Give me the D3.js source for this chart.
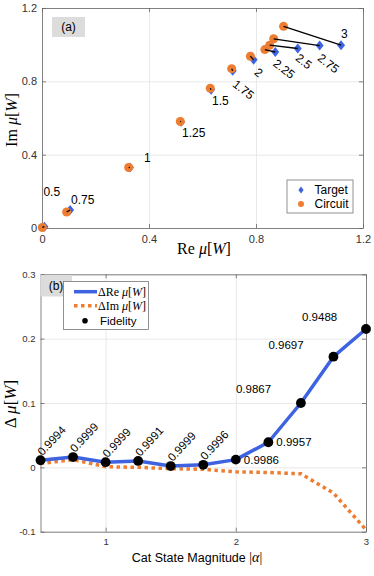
<html>
<head>
<meta charset="utf-8">
<title>cat state</title>
<script src="https://cdn.jsdelivr.net/npm/d3@7"></script>
<style>
body { margin:0; background:white; }
svg { font-family: "Liberation Sans", Arial, sans-serif; }
.math { font-family: "Liberation Serif", "Times New Roman", serif; }
</style>
</head>
<body>
<svg width="374" height="576"></svg>
<script>
// cat state magnitudes
var alpha = [0.5, 0.75, 1, 1.25, 1.5, 1.75, 2, 2.25, 2.5, 2.75, 3];
var alpha_tags = ["0.5", "0.75", "1", "1.25", "1.5", "1.75", "2", "2.25", "2.5", "2.75", "3"];

// panel (a): target vs circuit mean of W
var target_re  = [0.009, 0.105, 0.329, 0.520, 0.632, 0.713, 0.791, 0.872, 0.956, 1.038, 1.118];
var target_im  = [0.007, 0.098, 0.330, 0.580, 0.754, 0.858, 0.918, 0.960, 0.979, 0.995, 0.997];
var circuit_re = [0.001, 0.092, 0.324, 0.517, 0.629, 0.709, 0.779, 0.833, 0.851, 0.866, 0.903];
var circuit_im = [0.003, 0.087, 0.330, 0.581, 0.762, 0.869, 0.937, 0.973, 0.997, 1.032, 1.100];

// panel (b): differences and fidelity
var delta_re = [0.011, 0.016, 0.008, 0.010, 0.002, 0.004, 0.012, 0.039, 0.100, 0.172, 0.215];
var delta_im = [0.006, 0.012, 0.001, 0.000, -0.002, -0.003, -0.007, -0.008, -0.010, -0.040, -0.097];
var fidelity = ["0.9994", "0.9999", "0.9999", "0.9991", "0.9999", "0.9996", "0.9986", "0.9957", "0.9867", "0.9697", "0.9488"];

var ticks_a = [0, 0.4, 0.8, 1.2];
var ticks_bx = [1, 2, 3];
var ticks_by = [-0.1, 0, 0.1, 0.2, 0.3];

var blue = "#3d63e0", orange = "#ee7d31";

var svg = d3.select("svg");

// label placement for panel (a), pixel offsets from target marker: [dx, dy, rotate]
var tag_pos = [[-1,-35,0],[1,-10,0],[14,-10,0],[1,11,0],[1,11,0],[-1,15,38],[0,14,38],[-3,13,38],[-3,11,38],[-3,14,38],[0,-11,0]];
// fidelity label placement: [dx, dy, rotate]
var fid_pos = [[2,-4,-47],[2,-4,-47],[2,-4,-47],[2,-4,-47],[2,-4,-47],[2,-4,-47],[8,4,0],[8,4,0],[-65,-10,0],[-65,-8,0],[-64,-8,0]];

function fmt(d) { return String(+d.toFixed(1)); }

function box_axes(g, x, y, xt, yt, fs, xlab, ylab) {
	var x0 = x.range()[0], x1 = x.range()[1], y0 = y.range()[0], y1 = y.range()[1];
	// grid
	g.append("g").attr("transform","translate(0,"+y0+")")
		.call(d3.axisBottom(x).tickValues(xt).tickSize(-(y0-y1)).tickFormat(""))
		.call(function(a){ a.select(".domain").remove(); a.selectAll("line").attr("stroke","#e3e3e3").attr("stroke-width",0.8); });
	g.append("g").attr("transform","translate("+x0+",0)")
		.call(d3.axisLeft(y).tickValues(yt).tickSize(-(x1-x0)).tickFormat(""))
		.call(function(a){ a.select(".domain").remove(); a.selectAll("line").attr("stroke","#e3e3e3").attr("stroke-width",0.8); });
	// axes with inward ticks
	var ax = [
		[d3.axisBottom(x).tickValues(xt).tickSize(-4).tickPadding(xlab).tickFormat(fmt), "translate(0,"+y0+")"],
		[d3.axisTop(x).tickValues(xt).tickSize(-4).tickFormat(""), "translate(0,"+y1+")"],
		[d3.axisLeft(y).tickValues(yt).tickSize(-4).tickPadding(ylab).tickFormat(fmt), "translate("+x0+",0)"],
		[d3.axisRight(y).tickValues(yt).tickSize(-4).tickFormat(""), "translate("+x1+",0)"]
	];
	ax.forEach(function(a) {
		g.append("g").attr("transform", a[1]).call(a[0].tickSizeOuter(0))
			.call(function(s){
				s.select(".domain").attr("stroke","#666").attr("stroke-width",0.8);
				s.selectAll("line").attr("stroke","#666").attr("stroke-width",0.8);
				s.selectAll("text").attr("fill","#333").style("font-size",fs+"px").style("font-family","Liberation Sans, Arial, sans-serif");
			});
	});
}

function math_label(g, x, y, rot, size, pre) {
	var t = g.append("text").attr("class","math").attr("text-anchor","middle")
		.attr("transform","translate("+x+","+y+") rotate("+rot+")").style("font-size",size+"px");
	t.append("tspan").text(pre);
	t.append("tspan").style("font-style","italic").text("\u03bc");
	t.append("tspan").text("[");
	t.append("tspan").style("font-style","italic").text("W");
	t.append("tspan").text("]");
	return t;
}

/// panel (a)
var xa = d3.scaleLinear().domain([0,1.2]).range([42,363]);
var ya = d3.scaleLinear().domain([0,1.2]).range([228,8]);
var pa = svg.append("g");
box_axes(pa, xa, ya, ticks_a, ticks_a, 11, 7, 5);

pa.append("rect").attr("x",52).attr("y",17).attr("width",33).attr("height",20).attr("fill","#dcdcdc");
pa.append("text").attr("x",68.5).attr("y",27).attr("text-anchor","middle").attr("dominant-baseline","central")
	.style("font-size","12px").text("(a)");

var diamond = "M0,-5L4,0L0,5L-4,0Z";
pa.append("g").selectAll("path").data(alpha).enter().append("path")
	.attr("d", diamond).attr("fill", blue)
	.attr("transform", function(d,i){ return "translate("+xa(target_re[i])+","+ya(target_im[i])+")"; });
pa.append("g").selectAll("circle").data(alpha).enter().append("circle")
	.attr("cx", function(d,i){ return xa(circuit_re[i]); })
	.attr("cy", function(d,i){ return ya(circuit_im[i]); })
	.attr("r", 4.5).attr("fill", orange);
pa.append("g").selectAll("line").data(alpha).enter().append("line")
	.attr("x1", function(d,i){ return xa(circuit_re[i]); })
	.attr("y1", function(d,i){ return ya(circuit_im[i]); })
	.attr("x2", function(d,i){ return xa(target_re[i]); })
	.attr("y2", function(d,i){ return ya(target_im[i]); })
	.attr("stroke","black").attr("stroke-width",1.3);
pa.append("g").selectAll("text").data(alpha_tags).enter().append("text")
	.attr("transform", function(d,i){
		var p = tag_pos[i], px = xa(target_re[i]) + p[0], py = ya(target_im[i]) + p[1];
		if (p[2] == 0) py += 4;
		return "translate("+px+","+py+") rotate("+p[2]+")"; })
	.style("font-size","12px").text(function(d){ return d; });

// legend (a)
pa.append("rect").attr("x",287).attr("y",180).attr("width",66).attr("height",33)
	.attr("fill","white").attr("stroke","#777").attr("stroke-width",0.8);
pa.append("path").attr("d","M0,-3.5L2.6,0L0,3.5L-2.6,0Z").attr("fill",blue).attr("transform","translate(301,190)");
pa.append("circle").attr("cx",301).attr("cy",204).attr("r",3).attr("fill",orange);
pa.append("text").attr("x",314.5).attr("y",190).attr("dominant-baseline","central").style("font-size","12px").text("Target");
pa.append("text").attr("x",314.5).attr("y",204).attr("dominant-baseline","central").style("font-size","12px").text("Circuit");

math_label(pa, 204, 254, 0, 16, "Re ");
math_label(pa, 17, 120, -90, 16, "Im ");

/// panel (b)
var xb = d3.scaleLinear().domain([0.5,3]).range([40.5,366]);
var yb = d3.scaleLinear().domain([-0.1,0.3]).range([531.7,274.3]);
var pb = svg.append("g");
box_axes(pb, xb, yb, ticks_bx, ticks_by, 9.5, 7, 5);

pb.append("rect").attr("x",40.5).attr("y",275).attr("width",31.5).attr("height",21.5).attr("fill","#dcdcdc");
pb.append("text").attr("x",56).attr("y",286).attr("text-anchor","middle").attr("dominant-baseline","central")
	.style("font-size","12px").text("(b)");

var line_re = d3.line().x(function(d,i){ return xb(alpha[i]); }).y(function(d){ return yb(d); });
pb.append("path").datum(delta_im).attr("d", line_re).attr("fill","none")
	.attr("stroke",orange).attr("stroke-width",3.5).attr("stroke-dasharray","3.5,3.5");
pb.append("path").datum(delta_re).attr("d", line_re).attr("fill","none")
	.attr("stroke",blue).attr("stroke-width",3.5).attr("stroke-linejoin","round");
pb.append("g").selectAll("circle").data(delta_re).enter().append("circle")
	.attr("cx", function(d,i){ return xb(alpha[i]); }).attr("cy", function(d){ return yb(d); })
	.attr("r",4.9).attr("fill","black");
pb.append("g").selectAll("text").data(fidelity).enter().append("text")
	.attr("transform", function(d,i){
		var p = fid_pos[i];
		return "translate("+(xb(alpha[i])+p[0])+","+(yb(delta_re[i])+p[1])+") rotate("+p[2]+")"; })
	.style("font-size","11.5px").text(function(d){ return d; });

// legend (b)
pb.append("rect").attr("x",63.5).attr("y",281.5).attr("width",85).attr("height",48)
	.attr("fill","white").attr("stroke","#777").attr("stroke-width",0.8);
pb.append("line").attr("x1",74).attr("x2",97).attr("y1",291.7).attr("y2",291.7).attr("stroke",blue).attr("stroke-width",3.5);
pb.append("line").attr("x1",74).attr("x2",97).attr("y1",305.7).attr("y2",305.7).attr("stroke",orange).attr("stroke-width",3.5).attr("stroke-dasharray","3.5,3.5");
pb.append("circle").attr("cx",85).attr("cy",320.7).attr("r",2.8).attr("fill","black");
math_label(pb, 0, 0, 0, 12, "\u0394Re ").attr("text-anchor","start").attr("transform","translate(98,296)");
math_label(pb, 0, 0, 0, 12, "\u0394Im ").attr("text-anchor","start").attr("transform","translate(98,310)");
pb.append("text").attr("x",100).attr("y",321).attr("dominant-baseline","central").style("font-size","11.5px").text("Fidelity");

math_label(pb, 16, 404, -90, 17, "\u0394 ");
var xl = pb.append("text").attr("x",197).attr("y",562).attr("text-anchor","middle").style("font-size","12.5px");
xl.append("tspan").text("Cat State Magnitude ");
xl.append("tspan").attr("class","math").style("font-size","14px").text("|");
xl.append("tspan").attr("class","math").style("font-style","italic").style("font-size","14px").text("\u03b1");
xl.append("tspan").attr("class","math").style("font-size","14px").text("|");
</script>
</body>
</html>
